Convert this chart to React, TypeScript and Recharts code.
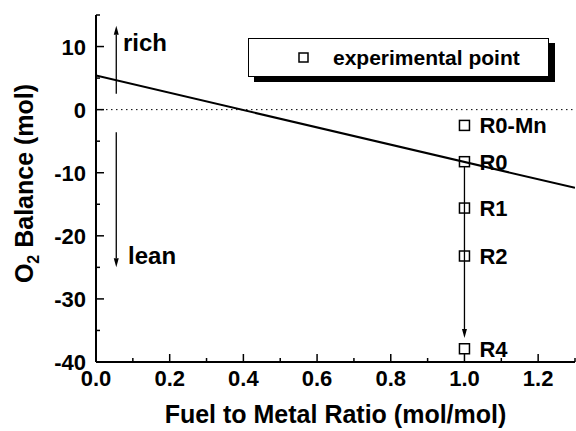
import React from 'react';
import {
  ComposedChart,
  Line,
  Scatter,
  XAxis,
  YAxis,
  ReferenceLine,
  Legend,
  Label,
} from 'recharts';

// fitted oxygen balance line
const fitRatio = [0, 1.3];
const fitBalance = [5.4, -12.4];

// experimental samples
const sampleNames = ['R0-Mn', 'R0', 'R1', 'R2', 'R4'];
const sampleRatio = [1.0, 1.0, 1.0, 1.0, 1.0];
const sampleBalance = [-2.5, -8.25, -15.6, -23.2, -37.9];

// rich / lean annotations
const noteText = ['rich', 'lean'];
const noteRatio = [0.073, 0.087];
const noteBalance = [10.6, -23.2];

const xTicks = [0, 0.1, 0.2, 0.3, 0.4, 0.5, 0.6, 0.7, 0.8, 0.9, 1.0, 1.1, 1.2, 1.3];
const yTicks = [-40, -35, -30, -25, -20, -15, -10, -5, 0, 5, 10, 15];

const fitData = fitRatio.map((x, i) => ({ x, y: fitBalance[i] }));
const samples = sampleNames.map((name, i) => ({ name, x: sampleRatio[i], y: sampleBalance[i] }));
const notes = noteText.map((text, i) => ({ text, x: noteRatio[i], y: noteBalance[i] }));

const FONT = '"Liberation Sans", Arial, sans-serif';

const isMajorX = (v: number) => Math.round(v * 10) % 2 === 0;
const isMajorY = (v: number) => Math.round(v) % 10 === 0;

const BottomTick = (props: any) => {
  const { x, y, payload } = props;
  const v = payload.value;
  const major = isMajorX(v);
  return (
    <g>
      <line x1={x} y1={y} x2={x} y2={y - (major ? 8 : 4)} stroke="#000" strokeWidth={1.5} />
      {major && (
        <text x={x} y={y + 24} textAnchor="middle" fontFamily={FONT} fontWeight="bold" fontSize={22} fill="#000">
          {v.toFixed(1)}
        </text>
      )}
    </g>
  );
};

const TopTick = (props: any) => {
  const { x, y, payload } = props;
  const major = isMajorX(payload.value);
  return <line x1={x} y1={y} x2={x} y2={y + (major ? 8 : 4)} stroke="#000" strokeWidth={1.5} />;
};

const LeftTick = (props: any) => {
  const { x, y, payload } = props;
  const v = payload.value;
  const major = isMajorY(v);
  return (
    <g>
      <line x1={x} y1={y} x2={x + (major ? 8 : 4)} y2={y} stroke="#000" strokeWidth={1.5} />
      {major && (
        <text x={x - 10} y={y + 8} textAnchor="end" fontFamily={FONT} fontWeight="bold" fontSize={22} fill="#000">
          {String(v)}
        </text>
      )}
    </g>
  );
};

const RightTick = (props: any) => {
  const { x, y, payload } = props;
  const major = isMajorY(payload.value);
  return <line x1={x} y1={y} x2={x - (major ? 8 : 4)} y2={y} stroke="#000" strokeWidth={1.5} />;
};

const SampleMarker = (props: any) => {
  const { cx, cy, payload } = props;
  return (
    <g>
      <rect x={cx - 5} y={cy - 5} width={10} height={10} fill="none" stroke="#000" strokeWidth={1.5} />
      <text x={cx + 15} y={cy + 8} fontFamily={FONT} fontWeight="bold" fontSize={22} fill="#000">
        {payload.name}
      </text>
    </g>
  );
};

const NoteText = (props: any) => {
  const { cx, cy, payload } = props;
  return (
    <text x={cx} y={cy + 8} fontFamily={FONT} fontWeight="bold" fontSize={24} fill="#000">
      {payload.text}
    </text>
  );
};

// straight line with a filled arrowhead at its end point
const ArrowLine = (props: any) => {
  const { x1, y1, x2, y2 } = props;
  const dx = x2 - x1;
  const dy = y2 - y1;
  const len = Math.sqrt(dx * dx + dy * dy) || 1;
  const ux = dx / len;
  const uy = dy / len;
  const head = 9;
  const half = 2.5;
  const bx = x2 - ux * head;
  const by = y2 - uy * head;
  const pts = `${x2},${y2} ${bx - uy * half},${by + ux * half} ${bx + uy * half},${by - ux * half}`;
  return (
    <g>
      <line x1={x1} y1={y1} x2={bx} y2={by} stroke="#000" strokeWidth={1.3} />
      <polygon points={pts} fill="#000" />
    </g>
  );
};

const YTitle = (props: any) => {
  const { viewBox } = props;
  const cx = 33;
  const cy = viewBox.y + viewBox.height / 2 - 5;
  return (
    <text
      x={cx}
      y={cy}
      transform={`rotate(-90, ${cx}, ${cy})`}
      textAnchor="middle"
      fontFamily={FONT}
      fontWeight="bold"
      fontSize={25}
      fill="#000"
    >
      <tspan>O</tspan>
      <tspan dy={6} fontSize={16}>2</tspan>
      <tspan dy={-6}> Balance (mol)</tspan>
    </text>
  );
};

const XTitle = (props: any) => {
  const { viewBox } = props;
  return (
    <text
      x={viewBox.x + viewBox.width / 2}
      y={viewBox.y + 61}
      textAnchor="middle"
      fontFamily={FONT}
      fontWeight="bold"
      fontSize={25}
      fill="#000"
    >
      Fuel to Metal Ratio (mol/mol)
    </text>
  );
};

const LegendBox = () => (
  <div
    style={{
      width: 299,
      height: 37,
      border: '1.5px solid #000',
      background: '#fff',
      boxShadow: '6px 5px 0 #000',
      display: 'flex',
      alignItems: 'center',
      fontFamily: FONT,
      fontWeight: 'bold',
      fontSize: 21,
      boxSizing: 'content-box',
    }}
  >
    <svg width={84} height={37}>
      <rect x={50} y={14} width={9} height={9} fill="none" stroke="#000" strokeWidth={1.5} />
    </svg>
    <span>experimental point</span>
  </div>
);

export default function App() {
  return (
    <div style={{ position: 'absolute', left: 0, top: 0, background: '#fff' }}>
      <ComposedChart width={576} height={431} margin={{ top: 15, right: 1, left: 0, bottom: 0 }}>
        <XAxis
          dataKey="x"
          type="number"
          domain={[0, 1.3]}
          ticks={xTicks}
          interval={0}
          allowDataOverflow
          height={69}
          tickSize={0}
          tickMargin={0}
          tickLine={false}
          axisLine={{ stroke: '#000', strokeWidth: 2 }}
          tick={<BottomTick />}
        >
          <Label content={<XTitle />} />
        </XAxis>
        <XAxis
          xAxisId="top"
          orientation="top"
          type="number"
          domain={[0, 1.3]}
          ticks={xTicks}
          interval={0}
          allowDataOverflow
          height={0}
          tickSize={0}
          tickMargin={0}
          tickLine={false}
          axisLine={{ stroke: '#000', strokeWidth: 1.5 }}
          tick={<TopTick />}
        />
        <YAxis
          dataKey="y"
          type="number"
          domain={[-40, 15]}
          ticks={yTicks}
          interval={0}
          allowDataOverflow
          width={96}
          tickSize={0}
          tickMargin={0}
          tickLine={false}
          axisLine={{ stroke: '#000', strokeWidth: 2 }}
          tick={<LeftTick />}
        >
          <Label content={<YTitle />} />
        </YAxis>
        <YAxis
          yAxisId="right"
          orientation="right"
          type="number"
          domain={[-40, 15]}
          ticks={yTicks}
          interval={0}
          allowDataOverflow
          width={0}
          tickSize={0}
          tickMargin={0}
          tickLine={false}
          axisLine={{ stroke: '#000', strokeWidth: 1.5 }}
          tick={<RightTick />}
        />
        <ReferenceLine y={0} stroke="#000" strokeWidth={1} strokeDasharray="1.5 3.5" />
        <ReferenceLine
          segment={[{ x: 0.055, y: 2.5 }, { x: 0.055, y: 13.3 }]}
          shape={<ArrowLine />}
          ifOverflow="visible"
        />
        <ReferenceLine
          segment={[{ x: 0.055, y: -3.6 }, { x: 0.055, y: -25 }]}
          shape={<ArrowLine />}
          ifOverflow="visible"
        />
        <ReferenceLine
          segment={[{ x: 1.0, y: -9.0 }, { x: 1.0, y: -36.2 }]}
          shape={<ArrowLine />}
          ifOverflow="visible"
        />
        <Line
          data={fitData}
          dataKey="y"
          type="linear"
          stroke="#000"
          strokeWidth={2}
          dot={false}
          activeDot={false}
          isAnimationActive={false}
        />
        <Scatter data={samples} dataKey="y" shape={<SampleMarker />} isAnimationActive={false} />
        <Scatter data={notes} dataKey="y" shape={<NoteText />} isAnimationActive={false} />
        <Legend
          layout="vertical"
          align="center"
          verticalAlign="middle"
          wrapperStyle={{ top: 38, left: 248, width: 'auto' }}
          content={<LegendBox />}
        />
      </ComposedChart>
    </div>
  );
}
